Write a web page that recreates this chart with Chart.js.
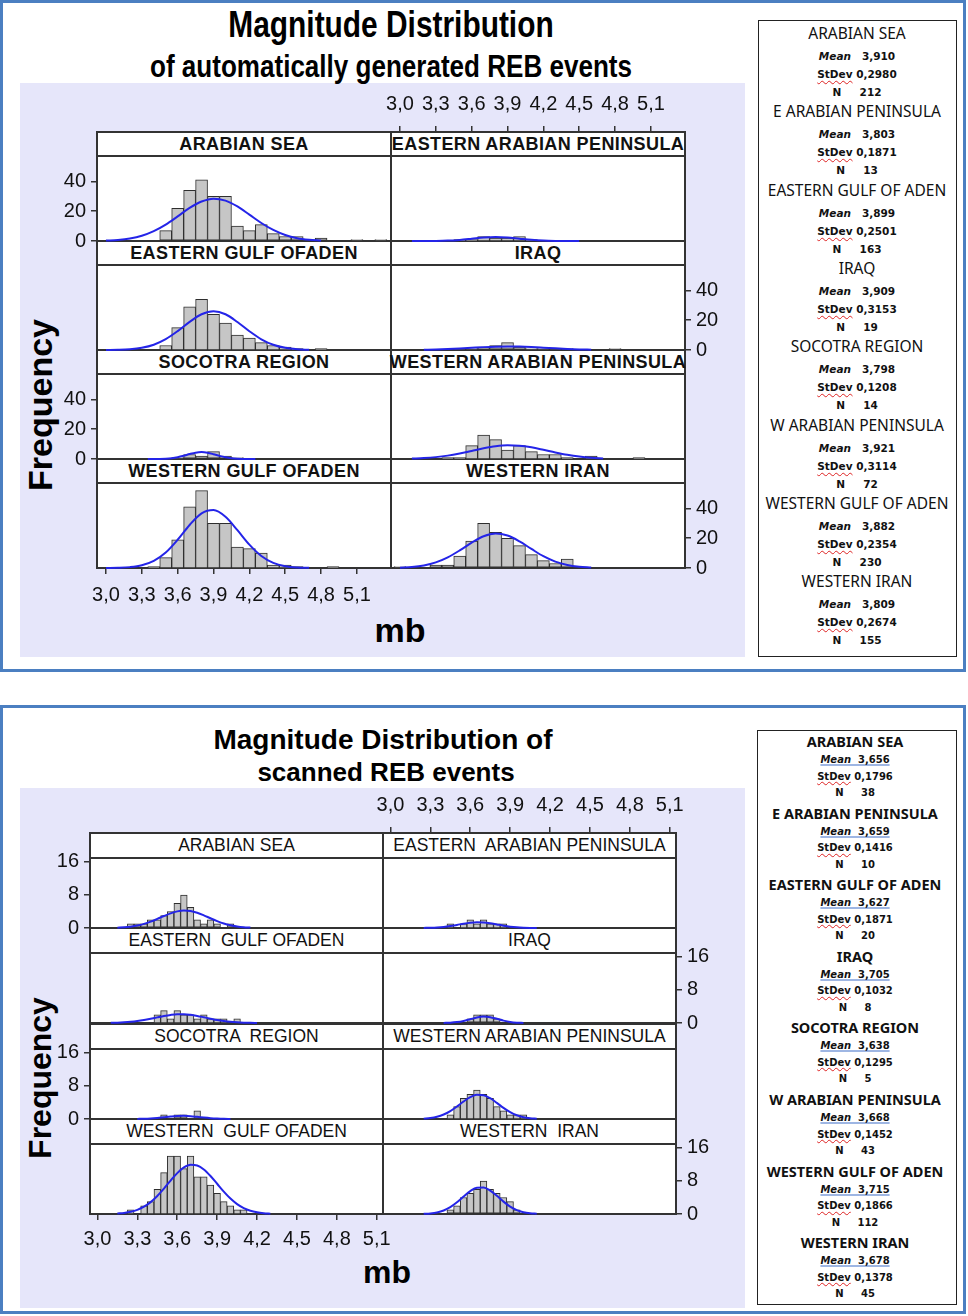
<!DOCTYPE html>
<html><head><meta charset="utf-8">
<script src="https://cdn.jsdelivr.net/npm/chart.js@4.4.1/dist/chart.umd.min.js"></script>
<style>
html,body{margin:0;padding:0;background:#fff}
body{position:relative;width:968px;height:1316px;overflow:hidden;font-family:'Liberation Sans',Arial,sans-serif;color:#000}
.a{position:absolute;box-sizing:border-box}
.frame{border:3px solid #4b7fc1;background:#fff}
.lav{background:#e6e6fa}
.legend{border:1px solid #222;background:#fff}
.ttl{position:absolute;white-space:nowrap;transform:translate(-50%,-50%);font-weight:bold}
.strip{background:#fff;border:2px solid #333;display:flex;align-items:center;justify-content:center;white-space:nowrap;overflow:visible;color:#111}
.plot{background:#fff;border:2px solid #333}
.lg{position:absolute;white-space:pre;transform:translate(-50%,-50%);text-align:center;color:#111}
.sq{text-decoration:underline wavy #d22;text-decoration-thickness:1px;text-underline-offset:2px}
.ul{text-decoration:underline #3e6ec8;text-decoration-thickness:1px;text-underline-offset:2px}
canvas{position:absolute;z-index:5}
</style></head><body>
<script>
// ===================== DATA =====================
const xTickValues = [3.0, 3.3, 3.6, 3.9, 4.2, 4.5, 4.8, 5.1];
const xTickLabels = ['3,0', '3,3', '3,6', '3,9', '4,2', '4,5', '4,8', '5,1'];
const autoYTickValues = [0, 20, 40];
const scannedYTickValues = [0, 8, 16];

const autoPanelNames = ['ARABIAN SEA', 'EASTERN ARABIAN PENINSULA', 'EASTERN GULF OFADEN', 'IRAQ',
  'SOCOTRA REGION', 'WESTERN ARABIAN PENINSULA', 'WESTERN GULF OFADEN', 'WESTERN IRAN'];
const scannedPanelNames = ['ARABIAN SEA', 'EASTERN  ARABIAN PENINSULA', 'EASTERN  GULF OFADEN', 'IRAQ',
  'SOCOTRA  REGION', 'WESTERN ARABIAN PENINSULA', 'WESTERN  GULF OFADEN', 'WESTERN  IRAN'];

const legendNames = ['ARABIAN SEA', 'E ARABIAN PENINSULA', 'EASTERN GULF OF ADEN', 'IRAQ',
  'SOCOTRA REGION', 'W ARABIAN PENINSULA', 'WESTERN GULF OF ADEN', 'WESTERN IRAN'];
const autoMeans = ['3,910', '3,803', '3,899', '3,909', '3,798', '3,921', '3,882', '3,809'];
const autoStDevs = ['0,2980', '0,1871', '0,2501', '0,3153', '0,1208', '0,3114', '0,2354', '0,2674'];
const autoNs = ['212', '13', '163', '19', '14', '72', '230', '155'];
const scannedMeans = ['3,656', '3,659', '3,627', '3,705', '3,638', '3,668', '3,715', '3,678'];
const scannedStDevs = ['0,1796', '0,1416', '0,1871', '0,1032', '0,1295', '0,1452', '0,1866', '0,1378'];
const scannedNs = ['38', '10', '20', '8', '5', '43', '112', '45'];

// --- automatically generated REB events: histogram bins (mb) / counts, fitted curve points ---
const autoArabianSeaBins = [3.5, 3.6, 3.7, 3.8, 3.9, 4.0, 4.1, 4.2, 4.3, 4.4, 4.5, 4.6, 4.8, 5.1, 5.3];
const autoArabianSeaCounts = [7, 22, 34, 41, 30, 30, 10, 7, 11, 5, 3, 3, 2, 1, 1];
const autoArabianSeaCurveX = [3.0, 3.1, 3.2, 3.3, 3.4, 3.5, 3.6, 3.7, 3.8, 3.9, 4.0, 4.1, 4.2, 4.3, 4.4, 4.5, 4.6, 4.7, 4.8];
const autoArabianSeaCurveY = [0.27, 0.71, 1.66, 3.5, 6.6, 11.0, 16.5, 22.2, 26.5, 28.4, 27.1, 23.2, 17.7, 12.1, 7.4, 4.0, 1.9, 0.85, 0.33];

const autoEArabianBins = [3.5, 3.6, 3.7, 3.8, 3.9, 4.0, 4.1];
const autoEArabianCounts = [1, 1, 3, 2, 2, 3, 1];
const autoEArabianCurveX = [3.1, 3.2, 3.3, 3.4, 3.5, 3.6, 3.7, 3.8, 3.9, 4.0, 4.1, 4.2, 4.3, 4.4, 4.5];
const autoEArabianCurveY = [0, 0.02, 0.07, 0.27, 0.75, 1.54, 2.38, 2.77, 2.42, 1.59, 0.79, 0.29, 0.08, 0.02, 0];

const autoEGulfAdenBins = [3.5, 3.6, 3.7, 3.8, 3.9, 4.0, 4.1, 4.2, 4.3, 4.4, 4.5, 4.6, 4.8];
const autoEGulfAdenCounts = [3, 15, 29, 34, 24, 18, 10, 8, 5, 3, 2, 1, 1];
const autoEGulfAdenCurveX = [3.0, 3.1, 3.2, 3.3, 3.4, 3.5, 3.6, 3.7, 3.8, 3.9, 4.0, 4.1, 4.2, 4.3, 4.4, 4.5, 4.6, 4.7];
const autoEGulfAdenCurveY = [0.04, 0.16, 0.52, 1.48, 3.55, 7.3, 12.7, 18.9, 24.0, 26.0, 24.0, 18.8, 12.6, 7.2, 3.5, 1.45, 0.51, 0.15];

const autoIraqBins = [3.5, 3.6, 3.7, 3.8, 3.9, 4.0, 4.1, 4.2, 4.3, 4.4, 4.8];
const autoIraqCounts = [1, 1, 2, 3, 5, 2, 1, 1, 1, 1, 1];
const autoIraqCurveX = [3.2, 3.3, 3.4, 3.5, 3.6, 3.7, 3.8, 3.9, 4.0, 4.1, 4.2, 4.3, 4.4, 4.5, 4.6];
const autoIraqCurveY = [0.19, 0.37, 0.65, 1.03, 1.48, 1.93, 2.26, 2.40, 2.30, 2.0, 1.57, 1.11, 0.71, 0.41, 0.22];

const autoSocotraBins = [3.6, 3.7, 3.8, 3.9, 4.0, 4.1];
const autoSocotraCounts = [1, 3, 2, 5, 2, 1];
const autoSocotraCurveX = [3.35, 3.40, 3.45, 3.50, 3.55, 3.60, 3.65, 3.70, 3.75, 3.80, 3.85, 3.90, 3.95, 4.00, 4.05, 4.10, 4.15, 4.20, 4.25];
const autoSocotraCurveY = [0, 0.02, 0.07, 0.22, 0.56, 1.21, 2.18, 3.33, 4.27, 4.62, 4.21, 3.23, 2.09, 1.14, 0.52, 0.20, 0.07, 0.02, 0];

const autoWArabianBins = [3.4, 3.5, 3.6, 3.7, 3.8, 3.9, 4.0, 4.1, 4.2, 4.3, 4.4, 4.6, 5.0];
const autoWArabianCounts = [1, 1, 9, 16, 13, 6, 9, 5, 3, 3, 1, 2, 1];
const autoWArabianCurveX = [3.1, 3.2, 3.3, 3.4, 3.5, 3.6, 3.7, 3.8, 3.9, 4.0, 4.1, 4.2, 4.3, 4.4, 4.5, 4.6, 4.7];
const autoWArabianCurveY = [0.29, 0.63, 1.26, 2.27, 3.70, 5.42, 7.17, 8.55, 9.20, 8.93, 7.82, 6.17, 4.40, 2.83, 1.64, 0.85, 0.40];

const autoWGulfAdenBins = [3.4, 3.5, 3.6, 3.7, 3.8, 3.9, 4.0, 4.1, 4.2, 4.3, 4.4, 4.5, 4.6, 4.9];
const autoWGulfAdenCounts = [1, 7, 19, 41, 52, 30, 30, 14, 13, 10, 2, 2, 1, 1];
const autoWGulfAdenCurveX = [3.0, 3.1, 3.2, 3.3, 3.4, 3.5, 3.6, 3.7, 3.8, 3.9, 4.0, 4.1, 4.2, 4.3, 4.4, 4.5, 4.6, 4.7];
const autoWGulfAdenCurveY = [0.04, 0.16, 0.59, 1.84, 4.8, 10.4, 19.0, 28.9, 36.7, 38.9, 34.4, 25.4, 15.7, 8.1, 3.46, 1.24, 0.37, 0.09];

const autoWIranBins = [3.0, 3.3, 3.4, 3.5, 3.6, 3.7, 3.8, 3.9, 4.0, 4.1, 4.2, 4.3, 4.4];
const autoWIranCounts = [1, 2, 2, 8, 18, 30, 24, 20, 15, 9, 5, 3, 6];
const autoWIranCurveX = [3.0, 3.1, 3.2, 3.3, 3.4, 3.5, 3.6, 3.7, 3.8, 3.9, 4.0, 4.1, 4.2, 4.3, 4.4, 4.5, 4.6];
const autoWIranCurveY = [0.24, 0.69, 1.73, 3.77, 7.17, 11.8, 17.0, 21.3, 23.1, 21.8, 17.9, 12.8, 7.9, 4.28, 2.0, 0.82, 0.29];

// --- scanned REB events ---
const scannedArabianSeaBins = [3.25, 3.3, 3.35, 3.4, 3.45, 3.5, 3.55, 3.6, 3.65, 3.7, 3.75, 3.8, 3.85, 3.9, 4.0];
const scannedArabianSeaCounts = [1, 1, 1, 2, 2, 3, 4, 6, 8, 5, 2, 1, 2, 1, 1];
const scannedArabianSeaCurveX = [3.15, 3.20, 3.25, 3.30, 3.35, 3.40, 3.45, 3.50, 3.55, 3.60, 3.65, 3.70, 3.75, 3.80, 3.85, 3.90, 3.95, 4.00, 4.05, 4.10, 4.15];
const scannedArabianSeaCurveY = [0.08, 0.17, 0.33, 0.59, 0.99, 1.53, 2.19, 2.90, 3.55, 4.02, 4.22, 4.10, 3.68, 3.06, 2.35, 1.68, 1.10, 0.67, 0.38, 0.20, 0.10];

const scannedEArabianBins = [3.45, 3.55, 3.6, 3.65, 3.7, 3.75, 3.8, 3.85];
const scannedEArabianCounts = [1, 1, 2, 1, 2, 1, 1, 1];
const scannedEArabianCurveX = [3.25, 3.30, 3.35, 3.40, 3.45, 3.50, 3.55, 3.60, 3.65, 3.70, 3.75, 3.80, 3.85, 3.90, 3.95, 4.00, 4.05, 4.10];
const scannedEArabianCurveY = [0.02, 0.06, 0.13, 0.26, 0.47, 0.75, 1.05, 1.29, 1.41, 1.35, 1.15, 0.86, 0.57, 0.33, 0.17, 0.08, 0.03, 0.01];

const scannedEGulfAdenBins = [3.45, 3.5, 3.55, 3.6, 3.65, 3.7, 3.75, 3.8, 3.85, 3.9, 3.95, 4.05];
const scannedEGulfAdenCounts = [2, 3, 1, 3, 2, 2, 1, 2, 1, 1, 1, 1];
const scannedEGulfAdenCurveX = [3.10, 3.15, 3.20, 3.25, 3.30, 3.35, 3.40, 3.45, 3.50, 3.55, 3.60, 3.65, 3.70, 3.75, 3.80, 3.85, 3.90, 3.95, 4.00, 4.05, 4.10, 4.15, 4.20];
const scannedEGulfAdenCurveY = [0.04, 0.08, 0.16, 0.28, 0.46, 0.71, 1.02, 1.36, 1.69, 1.96, 2.11, 2.11, 1.97, 1.72, 1.39, 1.05, 0.73, 0.48, 0.29, 0.17, 0.09, 0.04, 0.02];

const scannedIraqBins = [3.6, 3.65, 3.7, 3.75, 3.8];
const scannedIraqCounts = [1, 2, 2, 2, 1];
const scannedIraqCurveX = [3.40, 3.45, 3.50, 3.55, 3.60, 3.65, 3.70, 3.75, 3.80, 3.85, 3.90, 3.95, 4.00];
const scannedIraqCurveY = [0.02, 0.07, 0.22, 0.50, 0.92, 1.34, 1.55, 1.41, 1.01, 0.58, 0.26, 0.09, 0.03];

const scannedSocotraBins = [3.5, 3.6, 3.65, 3.75];
const scannedSocotraCounts = [1, 1, 1, 2];
const scannedSocotraCurveX = [3.30, 3.35, 3.40, 3.45, 3.50, 3.55, 3.60, 3.65, 3.70, 3.75, 3.80, 3.85, 3.90, 3.95, 4.00];
const scannedSocotraCurveY = [0.03, 0.06, 0.14, 0.27, 0.44, 0.61, 0.74, 0.77, 0.69, 0.53, 0.35, 0.20, 0.10, 0.04, 0.02];

const scannedWArabianBins = [3.45, 3.5, 3.55, 3.6, 3.65, 3.7, 3.75, 3.8, 3.85, 3.9, 3.95, 4.0];
const scannedWArabianCounts = [1, 3, 5, 6, 7, 6, 5, 3, 2, 1, 1, 1];
const scannedWArabianCurveX = [3.25, 3.30, 3.35, 3.40, 3.45, 3.50, 3.55, 3.60, 3.65, 3.70, 3.75, 3.80, 3.85, 3.90, 3.95, 4.00, 4.05, 4.10];
const scannedWArabianCurveY = [0.09, 0.24, 0.54, 1.08, 1.91, 3.03, 4.25, 5.30, 5.87, 5.77, 5.04, 3.91, 2.69, 1.65, 0.90, 0.43, 0.19, 0.07];

const scannedWGulfAdenBins = [3.25, 3.35, 3.4, 3.45, 3.5, 3.55, 3.6, 3.65, 3.7, 3.75, 3.8, 3.85, 3.9, 3.95, 4.0, 4.05, 4.1];
const scannedWGulfAdenCounts = [1, 2, 3, 6, 10, 14, 14, 11, 14, 9, 9, 7, 5, 3, 2, 1, 1];
const scannedWGulfAdenCurveX = [3.15, 3.20, 3.25, 3.30, 3.35, 3.40, 3.45, 3.50, 3.55, 3.60, 3.65, 3.70, 3.75, 3.80, 3.85, 3.90, 3.95, 4.00, 4.05, 4.10, 4.15, 4.20, 4.25, 4.30];
const scannedWGulfAdenCurveY = [0.12, 0.27, 0.54, 1.01, 1.77, 2.88, 4.37, 6.16, 8.09, 9.90, 11.27, 11.93, 11.76, 10.79, 9.21, 7.32, 5.42, 3.73, 2.39, 1.43, 0.79, 0.41, 0.20, 0.09];

const scannedWIranBins = [3.45, 3.5, 3.55, 3.6, 3.65, 3.7, 3.75, 3.8, 3.85, 3.9, 3.95];
const scannedWIranCounts = [1, 2, 4, 5, 6, 8, 6, 5, 4, 3, 1];
const scannedWIranCurveX = [3.25, 3.30, 3.35, 3.40, 3.45, 3.50, 3.55, 3.60, 3.65, 3.70, 3.75, 3.80, 3.85, 3.90, 3.95, 4.00, 4.05, 4.10];
const scannedWIranCurveY = [0.05, 0.15, 0.38, 0.85, 1.66, 2.83, 4.23, 5.55, 6.38, 6.43, 5.68, 4.40, 2.99, 1.78, 0.93, 0.42, 0.17, 0.06];

// ===================== ASSEMBLY =====================
const autoPanels = [
  [autoArabianSeaBins, autoArabianSeaCounts, autoArabianSeaCurveX, autoArabianSeaCurveY],
  [autoEArabianBins, autoEArabianCounts, autoEArabianCurveX, autoEArabianCurveY],
  [autoEGulfAdenBins, autoEGulfAdenCounts, autoEGulfAdenCurveX, autoEGulfAdenCurveY],
  [autoIraqBins, autoIraqCounts, autoIraqCurveX, autoIraqCurveY],
  [autoSocotraBins, autoSocotraCounts, autoSocotraCurveX, autoSocotraCurveY],
  [autoWArabianBins, autoWArabianCounts, autoWArabianCurveX, autoWArabianCurveY],
  [autoWGulfAdenBins, autoWGulfAdenCounts, autoWGulfAdenCurveX, autoWGulfAdenCurveY],
  [autoWIranBins, autoWIranCounts, autoWIranCurveX, autoWIranCurveY]
];
const scannedPanels = [
  [scannedArabianSeaBins, scannedArabianSeaCounts, scannedArabianSeaCurveX, scannedArabianSeaCurveY],
  [scannedEArabianBins, scannedEArabianCounts, scannedEArabianCurveX, scannedEArabianCurveY],
  [scannedEGulfAdenBins, scannedEGulfAdenCounts, scannedEGulfAdenCurveX, scannedEGulfAdenCurveY],
  [scannedIraqBins, scannedIraqCounts, scannedIraqCurveX, scannedIraqCurveY],
  [scannedSocotraBins, scannedSocotraCounts, scannedSocotraCurveX, scannedSocotraCurveY],
  [scannedWArabianBins, scannedWArabianCounts, scannedWArabianCurveX, scannedWArabianCurveY],
  [scannedWGulfAdenBins, scannedWGulfAdenCounts, scannedWGulfAdenCurveX, scannedWGulfAdenCurveY],
  [scannedWIranBins, scannedWIranCounts, scannedWIranCurveX, scannedWIranCurveY]
];
const axisSides = ['left', 'top', null, 'right', 'left', null, 'bottom', 'right'];

const FIGS = [
  {
    frame: [0, 0, 966, 672], lav: [20, 83, 725, 574],
    titles: [
      ['Magnitude Distribution', 391, 25, "bold 36px 'Liberation Sans', Arial, sans-serif", 0.83],
      ['of automatically generated REB events', 391, 67, "bold 31px 'Liberation Sans', Arial, sans-serif", 0.84]
    ],
    freq: [40, 405, 34], mb: [400, 630, 34],
    colX: [97, 391], colW: 294, rowTop: [132, 241, 350, 459], stripH: 24, rowH: 109,
    xMin: 2.925, xMax: 5.385, yMax: 73.2, yTicks: autoYTickValues,
    stripFont: "bold 18px 'Liberation Sans', Arial, sans-serif", stripLS: '0.4px',
    tickSize: 20, xPadTop: 10, xPadBottom: 9, yPad: 5,
    names: autoPanelNames, panels: autoPanels,
    legend: {box: [758, 20, 199, 637], cx: 857, first: 33, pitch: 78.3, d: [23, 41, 59],
      nameFont: "15.5px 'Noto Sans', sans-serif", valFont: "bold 10.5px 'DejaVu Sans', sans-serif", underlineMean: false},
    means: autoMeans, sds: autoStDevs, ns: autoNs
  },
  {
    frame: [0, 705, 966, 609], lav: [20, 788, 725, 520],
    titles: [
      ['Magnitude Distribution of', 383, 740, "bold 28px 'Liberation Sans', Arial, sans-serif", 1],
      ['scanned REB events', 386, 772, "bold 26px 'Liberation Sans', Arial, sans-serif", 1]
    ],
    freq: [40, 1078, 32], mb: [387, 1272, 32],
    colX: [90, 383], colW: 293, rowTop: [833, 928, 1024, 1119], stripH: 25, rowH: 95,
    xMin: 2.944, xMax: 5.147, yMax: 23.0, yTicks: scannedYTickValues,
    stripFont: "17.5px 'Liberation Sans', Arial, sans-serif", stripLS: '0px',
    tickSize: 20, xPadTop: 10, xPadBottom: 7, yPad: 5,
    names: scannedPanelNames, panels: scannedPanels,
    legend: {box: [757, 730, 200, 575], cx: 855, first: 741, pitch: 71.6, d: [18, 34.5, 51],
      nameFont: "bold 14.5px 'Noto Sans', sans-serif", valFont: "bold 10px 'DejaVu Sans', sans-serif", underlineMean: true},
    means: scannedMeans, sds: scannedStDevs, ns: scannedNs
  }
];

// ===================== RENDER =====================
function box(cls, r, style) {
  const d = document.createElement('div');
  d.className = 'a ' + cls;
  d.style.left = r[0] + 'px'; d.style.top = r[1] + 'px';
  d.style.width = r[2] + 'px'; d.style.height = r[3] + 'px';
  if (style) Object.assign(d.style, style);
  document.body.appendChild(d);
  return d;
}
function text(cls, x, y, html, font, extra) {
  const d = document.createElement('div');
  d.className = cls;
  d.style.left = x + 'px'; d.style.top = y + 'px';
  d.style.font = font;
  d.innerHTML = html;
  if (extra) Object.assign(d.style, extra);
  document.body.appendChild(d);
  return d;
}

const M = 70;
const FONT = "'Liberation Sans', Arial, sans-serif";

function makeChart(fig, x0, y0, data, side) {
  const [bins, counts, cx, cy] = data;
  const W = fig.colW, H = fig.rowH;
  const c = document.createElement('canvas');
  c.width = W + 2 * M; c.height = H + 2 * M;
  c.style.left = (x0 - M) + 'px'; c.style.top = (y0 - M) + 'px';
  c.style.width = c.width + 'px'; c.style.height = c.height + 'px';
  document.body.appendChild(c);
  const pad = {left: M, right: M, top: M, bottom: M};
  if (side) pad[side] = 0;
  const showX = side === 'top' || side === 'bottom';
  const showY = side === 'left' || side === 'right';
  const tickFont = {family: FONT, size: fig.tickSize};
  new Chart(c, {
    type: 'bar',
    data: {datasets: [
      {type: 'line', data: cx.map((x, k) => ({x: x, y: cy[k]})), borderColor: '#2424e8', borderWidth: 2,
       pointRadius: 0, cubicInterpolationMode: 'monotone', fill: false, clip: 6, order: 0},
      {type: 'bar', data: bins.map((x, k) => ({x: x, y: counts[k]})), backgroundColor: '#c6c6c6',
       borderColor: '#2e2e2e', borderWidth: 1, borderSkipped: false, barPercentage: 1, categoryPercentage: 1, order: 1}
    ]},
    options: {
      responsive: false, animation: false, devicePixelRatio: 1, events: [],
      layout: {padding: pad},
      plugins: {legend: {display: false}, tooltip: {enabled: false}, title: {display: false}},
      scales: {
        x: {type: 'linear', display: showX, position: side === 'top' ? 'top' : 'bottom',
            min: fig.xMin, max: fig.xMax, offset: false,
            afterBuildTicks: s => { s.ticks = xTickValues.map(v => ({value: v})); },
            afterFit: s => { if (showX) s.height = M; },
            ticks: {autoSkip: false, maxRotation: 0, minRotation: 0,
                    padding: side === 'top' ? fig.xPadTop : fig.xPadBottom,
                    font: tickFont, color: '#111', callback: (v, k) => xTickLabels[k]},
            grid: {display: true, drawOnChartArea: false, drawTicks: true, tickLength: 6, color: '#333', lineWidth: 1.5, offset: false},
            border: {display: false}},
        y: {type: 'linear', display: showY, position: side === 'right' ? 'right' : 'left',
            min: 0, max: fig.yMax,
            afterBuildTicks: s => { s.ticks = fig.yTicks.map(v => ({value: v})); },
            afterFit: s => { if (showY) s.width = M; },
            ticks: {padding: fig.yPad, font: tickFont, color: '#111', callback: (v, k) => String(fig.yTicks[k])},
            grid: {display: true, drawOnChartArea: false, drawTicks: true, tickLength: 6, color: '#333', lineWidth: 1.5},
            border: {display: false}}
      }
    }
  });
}

function buildFigure(fig) {
  box('frame', fig.frame);
  box('lav', fig.lav);
  fig.titles.forEach(t => text('ttl', t[1], t[2], t[0], t[3],
    {transform: 'translate(-50%,-50%) scaleX(' + t[4] + ')'}));
  text('ttl', fig.freq[0], fig.freq[1], 'Frequency', "bold " + fig.freq[2] + "px 'Liberation Sans', Arial, sans-serif",
       {transform: 'translate(-50%,-50%) rotate(-90deg)'});
  text('ttl', fig.mb[0], fig.mb[1], 'mb', "bold " + fig.mb[2] + "px 'Liberation Sans', Arial, sans-serif");
  // legend
  const L = fig.legend;
  box('legend', L.box);
  for (let i = 0; i < 8; i++) {
    const cy = L.first + i * L.pitch;
    text('lg', L.cx, cy, legendNames[i], L.nameFont);
    const meanHtml = L.underlineMean
      ? '<span class="ul"><i>Mean</i>  ' + fig.means[i] + '</span>'
      : '<i>Mean</i>   ' + fig.means[i];
    text('lg', L.cx, cy + L.d[0], meanHtml, L.valFont);
    text('lg', L.cx, cy + L.d[1], '<span class="sq">StDev</span> ' + fig.sds[i], L.valFont);
    text('lg', L.cx, cy + L.d[2], 'N     ' + fig.ns[i], L.valFont);
  }
  // panels
  fig.panels.forEach((p, i) => {
    const row = Math.floor(i / 2), col = i % 2;
    const x0 = fig.colX[col], y0 = fig.rowTop[row];
    const s = box('strip', [x0 - 1, y0 - 1, fig.colW + 2, fig.stripH + 2]);
    s.style.font = fig.stripFont; s.style.letterSpacing = fig.stripLS;
    s.style.whiteSpace = 'pre';
    s.textContent = fig.names[i];
    box('plot', [x0 - 1, y0 + fig.stripH - 1, fig.colW + 2, fig.rowH - fig.stripH + 2]);
  });
  fig.panels.forEach((p, i) => {
    const row = Math.floor(i / 2), col = i % 2;
    makeChart(fig, fig.colX[col], fig.rowTop[row], p, axisSides[i]);
  });
}

FIGS.forEach(buildFigure);
</script>
</body></html>
